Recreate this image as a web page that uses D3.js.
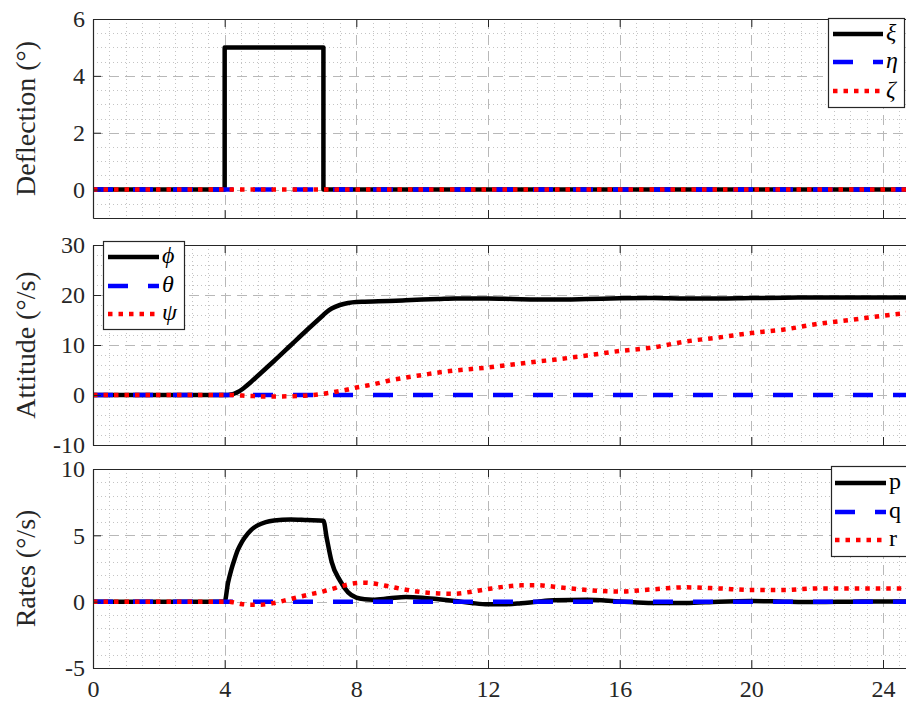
<!DOCTYPE html>
<html>
<head>
<meta charset="utf-8">
<script src="https://cdn.jsdelivr.net/npm/d3@7"></script>
<style>
html,body{margin:0;padding:0;background:#fff;}
svg{display:block;}
</style>
</head>
<body>
<svg id="chart" width="906" height="702"></svg>
<script>
// ---------- data ----------
const xTicks = [0, 4, 8, 12, 16, 20, 24];

// Panel 1: control deflections (step input)
const defT   = [0, 4, 4, 7, 7, 25];
const xiVals = [0, 0, 5, 5, 0, 0];
const etaVals  = [0, 0, 0, 0, 0, 0];
const zetaVals = [0, 0, 0, 0, 0, 0];
const defYTicks = [0, 2, 4, 6];

// Shared time base for attitude and rates panels
const simT = [0, 4, 4.1, 4.2, 4.3, 4.4, 4.5, 4.6, 4.8, 5, 5.25, 5.5, 6, 6.5, 7, 7.1, 7.25, 7.5, 7.75, 8, 8.25, 8.5, 9, 9.5, 10, 10.5, 11, 11.5, 12, 12.5, 13, 13.5, 14, 15, 16, 17, 18, 19, 20, 21, 22, 23, 24, 25];

// Panel 2: attitude
const phiVals   = [0, 0, 0.02, 0.1, 0.3, 0.6, 1.0, 1.5, 2.6, 3.8, 5.3, 6.8, 9.9, 13.0, 16.0, 16.6, 17.3, 18.0, 18.4, 18.6, 18.65, 18.7, 18.8, 18.95, 19.1, 19.2, 19.3, 19.3, 19.3, 19.25, 19.15, 19.1, 19.1, 19.2, 19.35, 19.4, 19.3, 19.3, 19.4, 19.45, 19.5, 19.5, 19.5, 19.5];
const thetaVals = [0, 0, 0, 0, 0, 0, 0, 0, 0, 0, 0, 0, 0, 0, 0, 0, 0, 0, 0, 0, 0, 0, 0, 0, 0, 0, 0, 0, 0, 0, 0, 0, 0, 0, 0, 0, 0, 0, 0, 0, 0, 0, 0, 0];
const psiVals   = [0, 0, 0, 0, -0.02, -0.05, -0.1, -0.15, -0.2, -0.25, -0.3, -0.3, -0.25, -0.1, 0.25, 0.35, 0.5, 0.8, 1.1, 1.5, 1.8, 2.1, 2.9, 3.5, 4.0, 4.5, 4.9, 5.2, 5.5, 5.9, 6.3, 6.7, 7.05, 7.9, 8.8, 9.5, 10.7, 11.5, 12.4, 13.1, 14.2, 15.0, 15.85, 16.6];
const attYTicks = [-10, 0, 10, 20, 30];

// Panel 3: rates
const pVals = [0, 0, 1.4, 2.4, 3.2, 3.9, 4.4, 4.8, 5.4, 5.75, 6.0, 6.12, 6.2, 6.15, 6.1, 4.8, 3.0, 1.6, 0.7, 0.3, 0.18, 0.15, 0.25, 0.35, 0.3, 0.18, 0.05, -0.1, -0.2, -0.2, -0.12, 0, 0.1, 0.15, 0.02, -0.1, -0.1, 0, 0.05, 0, -0.03, 0, 0.02, 0.02];
const qVals = [0, 0, 0, 0, 0, 0, 0, 0, 0, 0, 0, 0, 0, 0, 0, 0, 0, 0, 0, 0, 0, 0, 0, 0, 0, 0, 0, 0, 0, 0, 0, 0, 0, 0, 0, 0, 0, 0, 0, 0, 0, 0, 0, 0];
const rVals = [0, 0, 0, -0.02, -0.06, -0.12, -0.17, -0.2, -0.23, -0.23, -0.2, -0.1, 0.2, 0.5, 0.78, 0.85, 0.95, 1.12, 1.3, 1.4, 1.43, 1.38, 1.15, 0.9, 0.72, 0.62, 0.6, 0.75, 0.95, 1.13, 1.23, 1.24, 1.13, 0.88, 0.76, 0.93, 1.08, 1.0, 0.88, 0.88, 1.0, 1.0, 1.0, 1.0];
const rateYTicks = [-5, 0, 5, 10];

// ---------- styling ----------
const FONT = "'Liberation Serif','Times New Roman','DejaVu Serif',serif";
const AXC = "#262626";
const styles = {
  solid:  {color: "#000000", dash: null},
  dashed: {color: "#0000ff", dash: "20,20"},
  dotted: {color: "#ff0000", dash: "4.5,6"}
};
const LW = 4.5;
const fmt = d => String(d);

const svg = d3.select("#chart").style("font-family", FONT);
svg.append("rect").attr("width", 906).attr("height", 702).attr("fill", "#fff");

const x = d3.scaleLinear().domain([0, 25]).range([93, 93 + 25 * 32.917]);

const panels = [
  {id: "p1", top: 19, bottom: 218, domain: [-1, 6], ticks: defYTicks, minor: 0.5, label: "Deflection (°)",
   t: defT, curve: d3.curveLinear, xLabels: false,
   series: [{v: xiVals, s: "solid", name: "ξ"}, {v: etaVals, s: "dashed", name: "η"}, {v: zetaVals, s: "dotted", name: "ζ"}],
   legend: {x0: 828, x1: 904, y0: 18, y1: 107, lx0: 833, lx1: 883, tx: 886, rows: [34, 62, 91], italic: true}},
  {id: "p2", top: 245, bottom: 445, domain: [-10, 30], ticks: attYTicks, minor: 2, label: "Attitude (°/s)",
   t: simT, curve: d3.curveMonotoneX, xLabels: false,
   series: [{v: phiVals, s: "solid", name: "ϕ"}, {v: thetaVals, s: "dashed", name: "θ"}, {v: psiVals, s: "dotted", name: "ψ"}],
   legend: {x0: 103, x1: 184, y0: 241, y1: 329, lx0: 108, lx1: 159, tx: 162, rows: [257, 286, 314], italic: true}},
  {id: "p3", top: 469, bottom: 668, domain: [-5, 10], ticks: rateYTicks, minor: 1, label: "Rates (°/s)",
   t: simT, curve: d3.curveMonotoneX, xLabels: true,
   series: [{v: pVals, s: "solid", name: "p"}, {v: qVals, s: "dashed", name: "q"}, {v: rVals, s: "dotted", name: "r"}],
   legend: {x0: 831, x1: 912, y0: 466, y1: 556, lx0: 835, lx1: 886, tx: 889, rows: [483, 512, 540], italic: false}}
];

const defs = svg.append("defs");

panels.forEach(P => {
  const y = d3.scaleLinear().domain(P.domain).range([P.bottom, P.top]);
  const g = svg.append("g");
  const [x0, x1] = x.range();

  defs.append("clipPath").attr("id", "clip-" + P.id)
    .append("rect").attr("x", x0).attr("y", P.top).attr("width", x1 - x0).attr("height", P.bottom - P.top);

  // minor grid
  const minorX = d3.range(0, 25.001, 0.5).filter(v => Math.abs(v / 4 - Math.round(v / 4)) > 1e-6);
  const minorY = d3.range(P.domain[0], P.domain[1] + 1e-6, P.minor).filter(v => !P.ticks.some(t => Math.abs(t - v) < 1e-6));
  const gm = g.append("g").attr("stroke", "#c4c4c4").attr("stroke-width", 1).attr("stroke-dasharray", "1,3");
  gm.selectAll("line.mx").data(minorX).join("line")
    .attr("x1", d => Math.round(x(d)) + 0.5).attr("x2", d => Math.round(x(d)) + 0.5)
    .attr("y1", P.top).attr("y2", P.bottom);
  gm.selectAll("line.my").data(minorY).join("line").attr("class", "my")
    .attr("x1", x0).attr("x2", x1)
    .attr("y1", d => Math.round(y(d)) + 0.5).attr("y2", d => Math.round(y(d)) + 0.5);

  // major grid
  const gM = g.append("g").attr("stroke", "#b8b8b8").attr("stroke-width", 1).attr("stroke-dasharray", "10,6");
  gM.selectAll("line.Mx").data(xTicks.filter(d => d > 0)).join("line").attr("class", "Mx")
    .attr("x1", d => Math.round(x(d)) + 0.5).attr("x2", d => Math.round(x(d)) + 0.5)
    .attr("y1", P.top).attr("y2", P.bottom);
  gM.selectAll("line.My").data(P.ticks.filter(d => d > P.domain[0] && d < P.domain[1])).join("line").attr("class", "My")
    .attr("x1", x0).attr("x2", x1)
    .attr("y1", d => Math.round(y(d)) + 0.5).attr("y2", d => Math.round(y(d)) + 0.5);

  // data lines
  const gl = g.append("g").attr("clip-path", "url(#clip-" + P.id + ")");
  P.series.forEach(S => {
    const st = styles[S.s];
    const line = d3.line().x((d, i) => x(P.t[i])).y(d => y(d)).curve(P.curve);
    gl.append("path").datum(S.v)
      .attr("d", line)
      .attr("fill", "none")
      .attr("stroke", st.color)
      .attr("stroke-width", LW)
      .attr("stroke-linejoin", "round")
      .attr("stroke-dasharray", st.dash);
  });

  // axes
  const xb = d3.axisBottom(x).tickValues(xTicks).tickSizeInner(-8).tickSizeOuter(0).tickPadding(12)
    .tickFormat(P.xLabels ? fmt : () => "");
  const xt = d3.axisTop(x).tickValues(xTicks).tickSizeInner(-8).tickSizeOuter(0).tickFormat(() => "");
  const yl = d3.axisLeft(y).tickValues(P.ticks).tickSizeInner(-8).tickSizeOuter(0).tickPadding(8).tickFormat(fmt);

  const axs = [
    g.append("g").attr("transform", `translate(0,${P.bottom})`).call(xb),
    g.append("g").attr("transform", `translate(0,${P.top})`).call(xt),
    g.append("g").attr("transform", `translate(${x0},0)`).call(yl)
  ];
  axs.forEach(a => {
    a.attr("font-family", null);
    a.select(".domain").attr("stroke", AXC).attr("stroke-width", 1.2);
    a.selectAll(".tick line").attr("stroke", AXC).attr("stroke-width", 1);
    a.selectAll(".tick text").attr("fill", AXC).style("font-family", FONT).style("font-size", "24px");
  });
  axs[2].selectAll(".tick text").attr("dy", "0.33em");

  // y label
  svg.append("text")
    .attr("transform", `translate(35,${(P.top + P.bottom) / 2}) rotate(-90)`)
    .attr("text-anchor", "middle")
    .attr("fill", AXC)
    .style("font-size", "28px")
    .text(P.label);

  // legend
  const L = P.legend;
  const lg = svg.append("g");
  lg.append("rect").attr("x", L.x0 + 0.5).attr("y", L.y0 + 0.5)
    .attr("width", L.x1 - L.x0).attr("height", L.y1 - L.y0)
    .attr("fill", "#fff").attr("stroke", AXC).attr("stroke-width", 1.2);
  P.series.forEach((S, i) => {
    const st = styles[S.s];
    lg.append("line")
      .attr("x1", L.lx0).attr("x2", L.lx1).attr("y1", L.rows[i]).attr("y2", L.rows[i])
      .attr("stroke", st.color).attr("stroke-width", LW).attr("stroke-dasharray", st.dash);
    lg.append("text")
      .attr("x", L.tx).attr("y", L.rows[i] + 6)
      .attr("fill", "#000")
      .style("font-size", "24px")
      .style("font-style", L.italic ? "italic" : "normal")
      .text(S.name);
  });
});
</script>
</body>
</html>
